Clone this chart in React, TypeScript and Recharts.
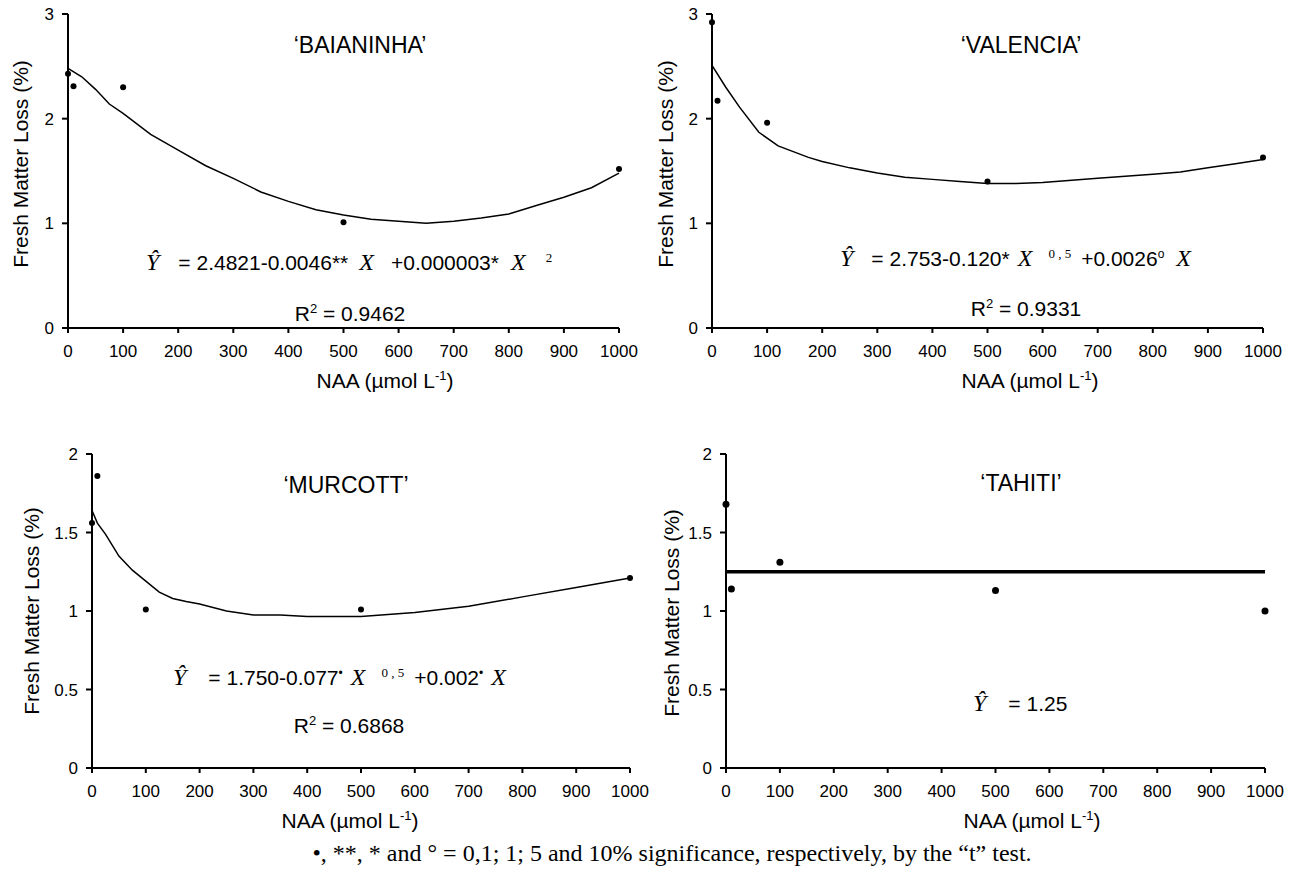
import React from 'react'
import { ComposedChart, Line, Scatter, XAxis, YAxis } from 'recharts'

// NAA doses on the x axis
const xTicks = [0, 100, 200, 300, 400, 500, 600, 700, 800, 900, 1000]
const yTicks3 = [0, 1, 2, 3]
const yTicks2 = [0, 0.5, 1, 1.5, 2]

// observed means (NAA, % loss)
const baianinhaPoints = [
  { x: 0, y: 2.43 },
  { x: 10, y: 2.31 },
  { x: 100, y: 2.3 },
  { x: 500, y: 1.01 },
  { x: 1000, y: 1.52 },
]
const valenciaPoints = [
  { x: 0, y: 2.92 },
  { x: 10, y: 2.17 },
  { x: 100, y: 1.96 },
  { x: 500, y: 1.4 },
  { x: 1000, y: 1.63 },
]
const murcottPoints = [
  { x: 0, y: 1.56 },
  { x: 10, y: 1.86 },
  { x: 100, y: 1.01 },
  { x: 500, y: 1.01 },
  { x: 1000, y: 1.21 },
]
const tahitiPoints = [
  { x: 0, y: 1.68 },
  { x: 10, y: 1.14 },
  { x: 100, y: 1.31 },
  { x: 500, y: 1.13 },
  { x: 1000, y: 1.0 },
]

// fitted curves
const baianinhaCurve = [
  { x: 0, y: 2.48 }, { x: 25, y: 2.4 }, { x: 50, y: 2.28 }, { x: 75, y: 2.14 },
  { x: 100, y: 2.05 }, { x: 150, y: 1.85 }, { x: 200, y: 1.7 }, { x: 250, y: 1.55 },
  { x: 300, y: 1.43 }, { x: 350, y: 1.3 }, { x: 400, y: 1.21 }, { x: 450, y: 1.13 },
  { x: 500, y: 1.08 }, { x: 550, y: 1.04 }, { x: 600, y: 1.02 }, { x: 650, y: 1.0 },
  { x: 700, y: 1.02 }, { x: 750, y: 1.05 }, { x: 800, y: 1.09 }, { x: 850, y: 1.17 },
  { x: 900, y: 1.25 }, { x: 950, y: 1.34 }, { x: 1000, y: 1.48 },
]
const valenciaCurve = [
  { x: 0, y: 2.51 }, { x: 25, y: 2.3 }, { x: 50, y: 2.11 }, { x: 85, y: 1.87 },
  { x: 120, y: 1.74 }, { x: 175, y: 1.63 }, { x: 200, y: 1.59 }, { x: 250, y: 1.53 },
  { x: 300, y: 1.48 }, { x: 350, y: 1.44 }, { x: 400, y: 1.42 }, { x: 450, y: 1.4 },
  { x: 500, y: 1.38 }, { x: 550, y: 1.38 }, { x: 600, y: 1.39 }, { x: 700, y: 1.43 },
  { x: 800, y: 1.47 }, { x: 850, y: 1.49 }, { x: 900, y: 1.53 }, { x: 950, y: 1.57 },
  { x: 1000, y: 1.61 },
]
const murcottCurve = [
  { x: 0, y: 1.64 }, { x: 10, y: 1.56 }, { x: 25, y: 1.49 }, { x: 50, y: 1.35 },
  { x: 75, y: 1.26 }, { x: 100, y: 1.19 }, { x: 125, y: 1.12 }, { x: 150, y: 1.08 },
  { x: 175, y: 1.06 }, { x: 200, y: 1.045 }, { x: 250, y: 1.0 }, { x: 300, y: 0.975 },
  { x: 350, y: 0.975 }, { x: 400, y: 0.965 }, { x: 450, y: 0.965 }, { x: 500, y: 0.965 },
  { x: 600, y: 0.99 }, { x: 700, y: 1.03 }, { x: 800, y: 1.09 }, { x: 900, y: 1.15 },
  { x: 1000, y: 1.21 },
]
const tahitiMean = [
  { x: 0, y: 1.25 },
  { x: 1000, y: 1.25 },
]

const SANS = '"Liberation Sans", Arial, sans-serif'
const SERIF = '"Liberation Serif", "Times New Roman", serif'

const Dot = (props: any) => <circle cx={props.cx} cy={props.cy} r={props.r ?? 3} fill="#000" />

const Panel = ({ left, top, width, yWidth, right, yMax, yTicks, curve, points, curveWidth, dotR }: any) => (
  <div style={{ position: 'absolute', left, top }}>
    <ComposedChart width={width} height={400} margin={{ top: 14, right, bottom: 42, left: 0 }}>
      <XAxis
        type="number"
        dataKey="x"
        domain={[0, 1000]}
        ticks={xTicks}
        interval={0}
        height={30}
        tickSize={5}
        tickMargin={12}
        axisLine={{ stroke: '#000', strokeWidth: 2 }}
        tickLine={{ stroke: '#000', strokeWidth: 2 }}
        tick={{ fill: '#000', fontSize: 17, fontFamily: SANS }}
      />
      <YAxis
        type="number"
        dataKey="y"
        domain={[0, yMax]}
        ticks={yTicks}
        interval={0}
        width={yWidth}
        tickSize={6}
        tickMargin={8}
        axisLine={{ stroke: '#000', strokeWidth: 2 }}
        tickLine={{ stroke: '#000', strokeWidth: 2 }}
        tick={{ fill: '#000', fontSize: 17, fontFamily: SANS }}
      />
      <Line
        data={curve}
        dataKey="y"
        type="linear"
        stroke="#000"
        strokeWidth={curveWidth}
        dot={false}
        activeDot={false}
        isAnimationActive={false}
      />
      <Scatter
        data={points}
        dataKey="y"
        fill="#000"
        shape={(p: any) => <Dot {...p} r={dotR} />}
        isAnimationActive={false}
      />
    </ComposedChart>
  </div>
)

const abs = (left: number, top: number, extra: any = {}) => ({
  position: 'absolute' as const,
  left,
  top,
  fontFamily: SANS,
  color: '#000',
  whiteSpace: 'pre' as const,
  lineHeight: 1,
  ...extra,
})

const YTitle = ({ cx, cy }: any) => (
  <div style={abs(cx, cy, { fontSize: 21, transform: 'translate(-50%, -50%) rotate(-90deg)' })}>
    Fresh Matter Loss (%)
  </div>
)

const XTitle = ({ cx, cy }: any) => (
  <div style={abs(cx, cy, { fontSize: 21, transform: 'translate(-50%, -50%)' })}>
    NAA (µmol L<span style={{ fontSize: 13, position: 'relative', top: -8 }}>-1</span>)
  </div>
)

const Title = ({ cx, cy, text }: any) => (
  <div style={abs(cx, cy, { fontSize: 23, transform: 'translate(-50%, -50%)' })}>{text}</div>
)

const R2 = ({ cx, cy, value }: any) => (
  <div style={abs(cx, cy, { fontSize: 21, transform: 'translate(-50%, -50%)' })}>
    R<sup style={{ fontSize: 13 }}>2</sup> = {value}
  </div>
)

const it = { fontFamily: SERIF, fontStyle: 'italic', fontSize: 24 }
const sup = { fontFamily: SERIF, fontSize: 13, verticalAlign: 'super' }

export default function App() {
  return (
    <div style={{ position: 'absolute', left: 0, top: 0, width: 1289, height: 869, background: '#fff' }}>
      <Panel left={0} top={0} width={660} yWidth={68} right={41} yMax={3} yTicks={yTicks3}
        curve={baianinhaCurve} points={baianinhaPoints} curveWidth={1.5} dotR={3} />
      <Panel left={640} top={0} width={649} yWidth={72} right={26} yMax={3} yTicks={yTicks3}
        curve={valenciaCurve} points={valenciaPoints} curveWidth={1.5} dotR={3} />
      <Panel left={0} top={440} width={670} yWidth={92} right={40} yMax={2} yTicks={yTicks2}
        curve={murcottCurve} points={murcottPoints} curveWidth={1.5} dotR={3} />
      <Panel left={640} top={440} width={649} yWidth={86} right={24} yMax={2} yTicks={yTicks2}
        curve={tahitiMean} points={tahitiPoints} curveWidth={3.5} dotR={3.5} />

      <YTitle cx={20} cy={164} />
      <YTitle cx={665} cy={164} />
      <YTitle cx={31} cy={611} />
      <YTitle cx={671} cy={613} />

      <XTitle cx={385} cy={380} />
      <XTitle cx={1030} cy={380} />
      <XTitle cx={350} cy={820} />
      <XTitle cx={1032} cy={820} />

      <Title cx={360} cy={45} text="‘BAIANINHA’" />
      <Title cx={1021} cy={45} text="‘VALENCIA’" />
      <Title cx={346} cy={485} text="‘MURCOTT’" />
      <Title cx={1021} cy={483} text="‘TAHITI’" />

      <div style={abs(146, 250, { fontSize: 21 })}>
        <span style={it}>Ŷ</span>
        <span style={{ marginLeft: 19 }}>= 2.4821-0.0046**</span>
        <span style={{ ...it, marginLeft: 11 }}>X</span>
        <span style={{ marginLeft: 17 }}>+0.000003*</span>
        <span style={{ ...it, marginLeft: 12 }}>X</span>
        <span style={{ ...sup, marginLeft: 20 }}>2</span>
      </div>
      <R2 cx={350} cy={313} value="0.9462" />

      <div style={abs(840, 246, { fontSize: 21 })}>
        <span style={it}>Ŷ</span>
        <span style={{ marginLeft: 18 }}>= 2.753-0.120*</span>
        <span style={{ ...it, marginLeft: 8 }}>X</span>
        <span style={{ ...sup, marginLeft: 16 }}>0 , 5</span>
        <span style={{ marginLeft: 10 }}>+0.0026<sup style={{ fontSize: 12 }}>o</sup></span>
        <span style={{ ...it, marginLeft: 12 }}>X</span>
      </div>
      <R2 cx={1026} cy={308} value="0.9331" />

      <div style={abs(173, 665, { fontSize: 21 })}>
        <span style={it}>Ŷ</span>
        <span style={{ marginLeft: 22 }}>= 1.750-0.077<sup style={{ fontSize: 12 }}>•</sup></span>
        <span style={{ ...it, marginLeft: 8 }}>X</span>
        <span style={{ ...sup, marginLeft: 16 }}>0 , 5</span>
        <span style={{ marginLeft: 10 }}>+0.002<sup style={{ fontSize: 12 }}>•</sup></span>
        <span style={{ ...it, marginLeft: 8 }}>X</span>
      </div>
      <R2 cx={349} cy={725} value="0.6868" />

      <div style={abs(973, 691, { fontSize: 21 })}>
        <span style={it}>Ŷ</span>
        <span style={{ marginLeft: 22 }}>= 1.25</span>
      </div>

      <div style={abs(672, 853, { fontFamily: SERIF, fontSize: 24, transform: 'translate(-50%, -50%)' })}>
        •, **, * and ° = 0,1; 1; 5 and 10% significance, respectively, by the “t” test.
      </div>
    </div>
  )
}
